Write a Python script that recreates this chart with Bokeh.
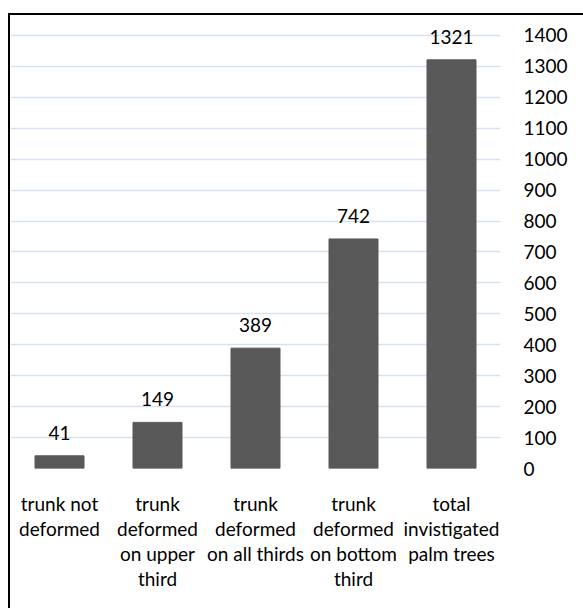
from bokeh.plotting import figure
from bokeh.models import Range1d, FactorRange, ColumnDataSource, FixedTicker, InlineStyleSheet
from bokeh.core.properties import value
from bokeh.embed import file_html
from bokeh.resources import INLINE

categories = [
    "trunk not\ndeformed",
    "trunk\ndeformed\non upper\nthird",
    "trunk\ndeformed\non all thirds",
    "trunk\ndeformed\non bottom\nthird",
    "total\ninvistigated\npalm trees",
]
counts = [41, 149, 389, 742, 1321]
count_labels = [str(c) for c in counts]
y_ticks = [0, 100, 200, 300, 400, 500, 600, 700, 800, 900, 1000, 1100, 1200, 1300, 1400]

FONT = "Lato"
FS = "19px"

source = ColumnDataSource(dict(cat=categories, count=counts, label=count_labels))

p = figure(
    width=583, height=608,
    x_range=FactorRange(*categories),
    y_range=Range1d(0, 1432),
    y_axis_location="right",
    output_backend="svg",
    toolbar_location=None,
    min_border_left=10, min_border_right=83,
    min_border_top=25, min_border_bottom=140,
)
p.background_fill_color = "white"
p.border_fill_color = "white"
p.outline_line_color = None

p.vbar(x="cat", top="count", width=0.5, source=source, color="#595959")
p.text(x="cat", y="count", text="label", source=source,
       text_align="center", text_baseline="middle", y_offset=-23,
       text_font=value(FONT), text_font_size=FS, text_color="black")

p.xgrid.grid_line_color = None
p.ygrid.ticker = FixedTicker(ticks=y_ticks)
p.ygrid.grid_line_color = "#d6e1f1"
p.ygrid.grid_line_width = 1.5

ya = p.yaxis[0]
ya.ticker = FixedTicker(ticks=y_ticks)
ya.axis_line_color = None
ya.major_tick_line_color = None
ya.minor_tick_line_color = None
ya.major_tick_out = 0
ya.major_tick_in = 0
ya.minor_tick_out = 0
ya.major_label_standoff = 23
ya.major_label_text_font = FONT
ya.major_label_text_font_size = FS
ya.major_label_text_color = "black"

xa = p.xaxis[0]
xa.axis_line_color = None
xa.major_tick_line_color = None
xa.minor_tick_line_color = None
xa.major_tick_out = 0
xa.major_tick_in = 0
xa.minor_tick_out = 0
xa.major_label_standoff = 23
xa.major_label_text_font = FONT
xa.major_label_text_font_size = FS
xa.major_label_text_color = "black"
xa.major_label_text_line_height = 1.1

# chart-area border (left and top edges visible, the rest runs off the page)
p.stylesheets = [InlineStyleSheet(css="""
:host::after {
  content: "";
  position: absolute;
  left: 7.8px; top: 13px; right: 0; bottom: 0;
  border-left: 2.6px solid black;
  border-top: 2.6px solid black;
  pointer-events: none;
  z-index: 10;
}
""")]

open("out.html", "w").write(file_html(p, INLINE))
